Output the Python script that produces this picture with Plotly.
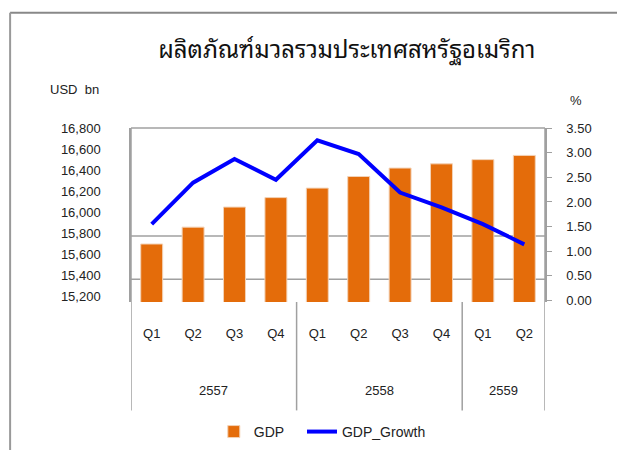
import plotly.graph_objects as go

# data
quarters = ["Q1", "Q2", "Q3", "Q4", "Q1", "Q2", "Q3", "Q4", "Q1", "Q2"]
years = ["2557", "2558", "2559"]
year_centers = [1.5, 5.5, 8.5]
gdp = [15700, 15860, 16050, 16140, 16230, 16340, 16420, 16460, 16500, 16540]
gdp_growth = [1.55, 2.39, 2.87, 2.45, 3.25, 2.97, 2.19, 1.89, 1.55, 1.14]
left_ticks = [15200, 15400, 15600, 15800, 16000, 16200, 16400, 16600, 16800]
right_ticks = [0, 0.5, 1.0, 1.5, 2.0, 2.5, 3.0, 3.5]

x = list(range(len(quarters)))
font = "Liberation Sans, Arial, sans-serif"
thai = "Noto Sans Thai Looped, Loma, Garuda, Tlwg Typo, Norasi, Tahoma, sans-serif"
grey = "#a0a0a0"
fs = 13

fig = go.Figure()
fig.add_trace(go.Bar(
    x=x, y=gdp, name="GDP", legend="legend",
    marker=dict(color="#E46C0A", line=dict(color="#f3d2b6", width=1)),
    width=0.53,
))
fig.add_trace(go.Scatter(
    x=x, y=gdp_growth, name="GDP_Growth", yaxis="y2", legend="legend2",
    mode="lines", line=dict(color="#0000FF", width=4),
))

shapes = [
    # outer frame (top + left)
    dict(type="line", xref="paper", yref="paper", x0=-0.292, x1=1.3, y0=1.663, y1=1.663,
         line=dict(color="#888", width=2)),
    dict(type="line", xref="paper", yref="paper", x0=-0.292, x1=-0.292, y0=1.663, y1=-0.95,
         line=dict(color="#999", width=2)),
    # plot top border
    dict(type="line", xref="paper", yref="paper", x0=0, x1=1, y0=1, y1=1,
         line=dict(color=grey, width=1.5)),
    # grid lines
    dict(type="line", xref="paper", yref="paper", x0=0, x1=1, y0=0.379, y1=0.379,
         line=dict(color=grey, width=1.5), layer="below"),
    dict(type="line", xref="paper", yref="paper", x0=0, x1=1, y0=0.131, y1=0.131,
         line=dict(color=grey, width=1.5), layer="below"),
]
# vertical group dividers
for xv in [-0.5, 3.5, 7.5, 9.5]:
    shapes.append(dict(type="line", xref="x", yref="paper", x0=xv, x1=xv,
                       y0=1 if xv in (-0.5, 9.5) else 0, y1=-0.623,
                       line=dict(color=grey, width=1.5)))

annotations = [
    dict(text=yr, x=c, xref="x", y=-0.51, yref="paper", showarrow=False,
         yanchor="middle", font=dict(family=font, size=fs, color="#222"))
    for yr, c in zip(years, year_centers)
]
annotations += [
    dict(text="USD  bn", x=-0.2, xref="paper", y=1.22, yref="paper", showarrow=False,
         xanchor="left", yanchor="middle", font=dict(family=font, size=fs, color="#222")),
    dict(text="%", x=1.075, xref="paper", y=1.16, yref="paper", showarrow=False,
         xanchor="center", yanchor="middle", font=dict(family=font, size=fs, color="#222")),
]

legend_style = dict(orientation="h", xanchor="left", y=-0.737, yanchor="middle",
                    font=dict(family=font, size=14, color="#222"))

fig.update_layout(
    width=625, height=450,
    margin=dict(l=123, r=88, t=120, b=155),
    paper_bgcolor="white", plot_bgcolor="white",
    title=dict(text="ผลิตภัณฑ์มวลรวมประเทศสหรัฐอเมริกา", x=0.542, xanchor="center",
               y=0.907, yanchor="middle",
               font=dict(family=thai, size=24, color="#111")),
    showlegend=True,
    legend=dict(x=0.2, **legend_style),
    legend2=dict(x=0.413, **legend_style),
    xaxis=dict(
        tickmode="array", tickvals=x, ticktext=quarters, range=[-0.5, 9.5],
        showgrid=False, showline=False, ticks="", ticklabelstandoff=22, automargin=False,
        tickfont=dict(family=font, size=fs, color="#222"), zeroline=False,
    ),
    yaxis=dict(
        range=[15150, 16800], tickvals=left_ticks, tickformat=",d", automargin=False,
        showgrid=False, zeroline=False, showline=True, linecolor=grey, linewidth=1.5,
        ticks="", ticklabelstandoff=26,
        tickfont=dict(family=font, size=fs, color="#222"),
    ),
    yaxis2=dict(
        overlaying="y", side="right", range=[-0.03, 3.5], tickvals=right_ticks,
        tickformat=".2f", showgrid=False, zeroline=False, automargin=False,
        showline=True, linecolor=grey, linewidth=1.5,
        ticks="outside", ticklen=5, tickcolor=grey, ticklabelstandoff=12,
        tickfont=dict(family=font, size=fs, color="#222"),
    ),
    bargap=0.47,
    shapes=shapes,
    annotations=annotations,
)

fig.write_html("out.html")
